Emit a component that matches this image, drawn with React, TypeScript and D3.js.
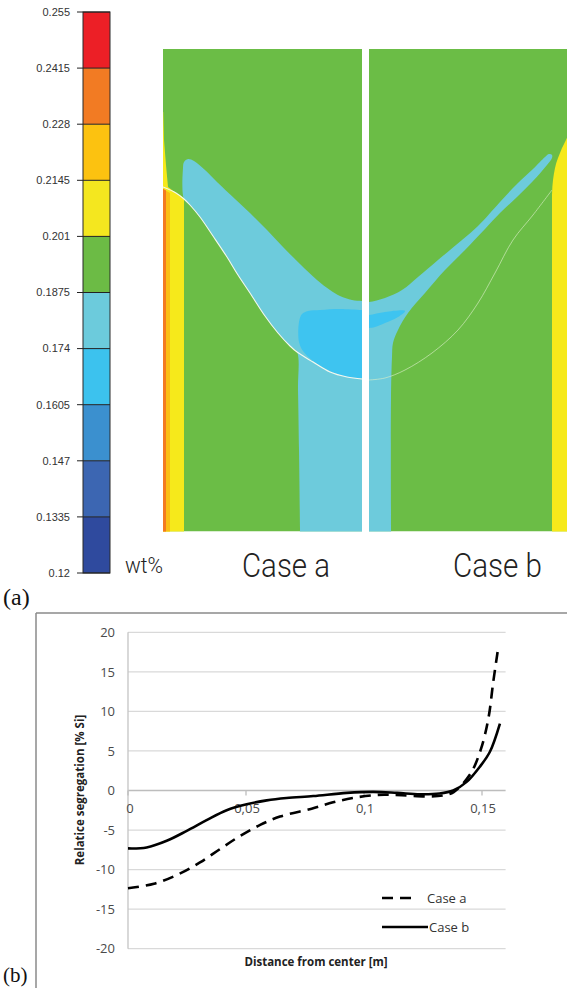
import React from 'react';
import * as d3 from 'd3';

const W = 567;
const H = 988;

// ---- (a) colour bar, Si content in wt%
const LEVELS = [0.255, 0.2415, 0.228, 0.2145, 0.201, 0.1875, 0.174, 0.1605, 0.147, 0.1335, 0.12];
const LEVEL_LABELS = ['0.255', '0.2415', '0.228', '0.2145', '0.201', '0.1875', '0.174', '0.1605', '0.147', '0.1335', '0.12'];
const LEVEL_COLORS = ['#ec1f26', '#f27b23', '#fcc210', '#f4e71f', '#6cbb45', '#6ccbdc', '#3cc2ee', '#3b90cf', '#3c66b2', '#2f4a9e'];

// ---- (a) contour outlines, [radius from axis (mm), depth from top (mm)]
const INGOT_R = 160;
const INGOT_Z = 386;

const caseAWallYellow: [number, number][] = [
  [159, 50.4], [158.4, 72.8], [156.8, 92.8], [155.2, 110.4], [148.8, 115.2], [142.4, 119.2],
  [142.4, 395], [166, 395], [166, 50.4],
];
const caseAWallGold: [number, number][] = [[166, 112], [159, 112], [153.6, 115.2], [153.6, 395], [166, 395]];
const caseAWallOrange: [number, number][] = [[166, 112], [159, 112], [156.8, 113.2], [156.8, 395], [166, 395]];

const caseABand: [number, number][] = [
  [143.2, 95.2], [142.4, 90.4], [139.2, 88], [134.4, 89.6], [125.6, 96.8], [116, 106.4], [101.6, 120],
  [89.6, 131.2], [76, 144.8], [63.2, 158.4], [49.6, 172], [36, 184.8], [25.6, 192.8], [17.6, 197.6],
  [8, 200.8], [0, 201.6], [-6, 202], [-6, 395], [49.4, 395], [49.6, 384], [50.4, 320.8], [51.2, 272.8],
  [52, 242.4], [57.6, 237.6], [67.2, 227.2], [77.6, 213.6], [89.6, 195.2], [99.2, 180.8], [108, 166.4],
  [119.2, 149.6], [129.6, 134.4], [137.6, 124.8], [142.4, 120],
];
const caseACore: [number, number][] = [
  [50.4, 218.4], [48, 212], [43.2, 209.6], [33.6, 208.8], [17.6, 208], [0, 208.8], [-6, 209],
  [-6, 263], [0, 263.2], [12, 262.4], [25.6, 257.6], [39.2, 249.6], [47.2, 241.6], [50.4, 234.4],
];
const caseALiquidus: [number, number][] = [
  [159.2, 110.4], [148.8, 115.2], [142.4, 120], [137.6, 124.8], [129.6, 134.4], [119.2, 149.6],
  [108, 166.4], [99.2, 180.8], [89.6, 195.2], [77.6, 213.6], [67.2, 227.2], [57.6, 237.6], [52, 242.4],
  [39.2, 250.4], [25.6, 258.4], [12, 262.4], [0, 264],
];

const caseBWallYellow: [number, number][] = [
  [159, 69.6], [156.8, 74.4], [154.4, 79.2], [152.8, 83.2], [151.2, 87.2], [149.8, 91.2],
  [148.8, 95.2], [147.9, 100], [147.2, 104.8], [146.7, 110], [146.4, 116.8],
  [146.4, 395], [166, 395], [166, 60],
];
const caseBBand: [number, number][] = [
  [0, 202.4], [12.8, 199.2], [26.4, 192.8], [39.2, 182.4], [55.2, 168.8], [74.4, 152.8], [87.2, 141.6],
  [104.8, 122.4], [118.4, 108], [131.2, 96], [140.8, 86.4], [144, 84], [146.4, 84.8], [146.4, 87.2],
  [142.4, 92.8], [131.2, 105.6], [118.4, 118.4], [104.8, 131.2], [92.8, 144], [76.8, 160.8],
  [60.8, 176.8], [44.8, 195.2], [31.2, 211.2], [23.2, 224.8], [19.2, 235.2], [18.4, 246.4],
  [17.6, 280.8], [17.6, 384], [17.6, 395], [-6, 395], [-6, 202.4],
];
const caseBCore: [number, number][] = [
  [0, 212.8], [12.8, 210.4], [28.8, 209.6], [23.2, 214.4], [12.8, 219.2], [4.8, 222.4], [0, 223.2],
  [-6, 223], [-6, 213],
];
const caseBLiquidus: [number, number][] = [
  [146.4, 112.8], [131.2, 132.8], [115.2, 152.8], [100.8, 179.2], [87.2, 203.2], [71.2, 224.8],
  [50.4, 243.2], [28.8, 256.8], [12.8, 263.2], [0, 264.8],
];

// ---- (b) relative segregation along the radius
const distA = [0, 0.011, 0.0213, 0.0305, 0.039, 0.0475, 0.056, 0.0644, 0.0778, 0.0869, 0.0952, 0.106, 0.116, 0.128, 0.134, 0.138, 0.145, 0.1494, 0.1527, 0.1548, 0.157];
const segA = [-12.35, -11.8, -10.6, -9.1, -7.4, -5.75, -4.35, -3.3, -2.3, -1.5, -0.95, -0.55, -0.6, -0.75, -0.6, -0.2, 2.06, 5.1, 9.1, 13.8, 18.3];
const distB = [0, 0.0079, 0.0164, 0.0249, 0.0333, 0.0418, 0.0503, 0.0588, 0.0672, 0.0785, 0.0927, 0.104, 0.114, 0.1237, 0.132, 0.1378, 0.1435, 0.149, 0.1533, 0.1576];
const segB = [-7.32, -7.2, -6.36, -5.1, -3.75, -2.5, -1.75, -1.25, -0.95, -0.7, -0.3, -0.17, -0.3, -0.47, -0.38, 0, 1.09, 2.98, 4.87, 8.46];
const xTicks = [0, 0.05, 0.1, 0.15];
const xTickLabels = ['0', '0,05', '0,1', '0,15'];
const yTicks = [-20, -15, -10, -5, 0, 5, 10, 15, 20];

const C = {
  green: '#6bbd46',
  cyan: '#6dcbdc',
  sky: '#3ec4f0',
  yellow: '#f6e91b',
  gold: '#fbbf14',
  orange: '#f37a21',
};

function Panel({ id, x0, x1, zScale, children }) {
  return (
    <g>
      <clipPath id={id}>
        <rect x={x0} y={zScale(0)} width={x1 - x0} height={zScale(INGOT_Z) - zScale(0)} />
      </clipPath>
      <g clipPath={`url(#${id})`}>
        <rect x={x0} y={zScale(0)} width={x1 - x0} height={zScale(INGOT_Z) - zScale(0)} fill={C.green} />
        {children}
      </g>
    </g>
  );
}

export default function App() {
  // colour bar
  const cb = d3.scaleLinear().domain([0.12, 0.255]).range([573, 12]);
  const cbX = 83;
  const cbW = 27;

  // contour panels
  const zScale = d3.scaleLinear().domain([0, INGOT_Z]).range([49, 531.5]);
  const rLeft = d3.scaleLinear().domain([0, INGOT_R]).range([362, 162]);
  const rRight = d3.scaleLinear().domain([0, INGOT_R]).range([369, 569]);
  const shape = (r, closed = true, smooth = true) =>
    d3.line<[number, number]>()
      .x(p => r(p[0]))
      .y(p => zScale(p[1]))
      .curve(closed ? (smooth ? d3.curveCatmullRomClosed.alpha(0.5) : d3.curveLinearClosed) : d3.curveCatmullRom.alpha(0.5));

  const L = shape(rLeft);
  const Llin = shape(rLeft, true, false);
  const Lopen = shape(rLeft, false);
  const R = shape(rRight);
  const Rlin = shape(rRight, true, false);
  const Ropen = shape(rRight, false);

  // segregation chart
  const x = d3.scaleLinear().domain([0, 0.16]).range([128, 505.6]);
  const y = d3.scaleLinear().domain([-20, 20]).range([948.7, 632.3]);
  const line = d3.line<[number, number]>().x(d => x(d[0])).y(d => y(d[1])).curve(d3.curveCatmullRom.alpha(0.5));
  const ptsA = distA.map((d, i) => [d, segA[i]] as [number, number]);
  const ptsB = distB.map((d, i) => [d, segB[i]] as [number, number]);

  const font = "'Open Sans', 'Noto Sans', sans-serif";
  const thin = "Roboto, 'Noto Sans', sans-serif";
  const serif = "'Liberation Serif', 'Times New Roman', serif";

  return (
    <svg width={W} height={H} style={{ position: 'absolute', left: 0, top: 0, background: '#fff' }}>
      {/* ---------- (a) colour bar ---------- */}
      {LEVEL_COLORS.map((c, i) => (
        <rect key={c} x={cbX} y={cb(LEVELS[i])} width={cbW} height={cb(LEVELS[i + 1]) - cb(LEVELS[i])} fill={c} />
      ))}
      <rect x={cbX} y={cb(0.255)} width={cbW} height={cb(0.12) - cb(0.255)} fill="none" stroke="#2a2a2a" strokeWidth={1} />
      {LEVELS.map((v, i) => (
        <g key={v}>
          <line x1={77} x2={cbX + cbW} y1={cb(v)} y2={cb(v)} stroke="#222" strokeWidth={1} />
          <text x={70} y={cb(v)} dy="0.35em" textAnchor="end" fontFamily="'Liberation Sans', Arial, sans-serif" fontSize={11} fill="#333">
            {LEVEL_LABELS[i]}
          </text>
        </g>
      ))}
      <text x={125} y={573} fontFamily={thin} fontWeight={300} fontSize={22} fill="#222" textLength={38} lengthAdjust="spacingAndGlyphs">wt%</text>

      {/* ---------- (a) Case a ---------- */}
      <Panel id="clipA" x0={163} x1={362} zScale={zScale}>
        <path d={Llin(caseAWallYellow)} fill={C.yellow} />
        <path d={Llin(caseAWallGold)} fill={C.gold} />
        <path d={Llin(caseAWallOrange)} fill={C.orange} />
        <path d={L(caseABand)} fill={C.cyan} />
        <path d={L(caseACore)} fill={C.sky} />
        <path d={Lopen(caseALiquidus)} fill="none" stroke="#f4f8ef" strokeWidth={1.1} />
      </Panel>

      {/* ---------- (a) Case b ---------- */}
      <Panel id="clipB" x0={369} x1={567} zScale={zScale}>
        <path d={Rlin(caseBWallYellow)} fill={C.yellow} />
        <path d={R(caseBBand)} fill={C.cyan} />
        <path d={R(caseBCore)} fill={C.sky} />
        <path d={Ropen(caseBLiquidus)} fill="none" stroke="#d9eec6" strokeWidth={0.8} opacity={0.8} />
      </Panel>

      <text x={242} y={577} fontFamily={thin} fontWeight={300} fontSize={33} fill="#222" textLength={88} lengthAdjust="spacingAndGlyphs">Case a</text>
      <text x={453} y={577} fontFamily={thin} fontWeight={300} fontSize={33} fill="#222" textLength={89} lengthAdjust="spacingAndGlyphs">Case b</text>

      <text x={3} y={605} fontFamily={serif} fontSize={24} fill="#111">(a)</text>
      <text x={3} y={982} fontFamily={serif} fontSize={21} fill="#111">(b)</text>

      {/* ---------- (b) chart frame ---------- */}
      <line x1={36} x2={W} y1={613} y2={613} stroke="#8a8a8a" strokeWidth={1.5} />
      <line x1={36} x2={36} y1={613} y2={H} stroke="#8a8a8a" strokeWidth={1.5} />

      {/* grid */}
      {yTicks.map(t => (
        <g key={t}>
          <line x1={x(0)} x2={x(0.16)} y1={y(t)} y2={y(t)} stroke={t === 0 ? '#bdbdbd' : '#d9d9d9'} strokeWidth={1.3} />
          <text x={115} y={y(t)} dy="0.36em" textAnchor="end" fontFamily={font} fontSize={13} fill="#4a4a4a">{t}</text>
        </g>
      ))}
      <line x1={x(0)} x2={x(0)} y1={y(20)} y2={y(-20)} stroke="#c4c4c4" strokeWidth={1.3} />
      {xTicks.map((t, i) => (
        <g key={t}>
          <line x1={x(t)} x2={x(t)} y1={y(0)} y2={y(0) + 5} stroke="#bdbdbd" strokeWidth={1.3} />
          <text x={x(t) + (i === 0 ? 2 : 1)} y={y(0) + 22} textAnchor="middle" fontFamily={font} fontSize={13} fill="#4a4a4a">{xTickLabels[i]}</text>
        </g>
      ))}

      {/* curves */}
      <path d={line(ptsA)} fill="none" stroke="#000" strokeWidth={2.6} strokeDasharray="11,7" />
      <path d={line(ptsB)} fill="none" stroke="#000" strokeWidth={2.6} />

      {/* legend */}
      <line x1={382} x2={416} y1={898} y2={898} stroke="#000" strokeWidth={2.6} strokeDasharray="11,7" />
      <text x={427} y={898} dy="0.35em" fontFamily={font} fontSize={13} fill="#333">Case a</text>
      <line x1={382} x2={428} y1={927} y2={927} stroke="#000" strokeWidth={2.6} />
      <text x={429} y={927} dy="0.35em" fontFamily={font} fontSize={13} fill="#333">Case b</text>

      {/* axis titles */}
      <text x={316} y={966} textAnchor="middle" fontFamily={font} fontWeight={700} fontSize={11.5} fill="#222">Distance from center [m]</text>
      <text transform={`translate(84,790) rotate(-90)`} textAnchor="middle" fontFamily={font} fontWeight={700} fontSize={11.5} fill="#222">Relatice segregation [% Si]</text>
    </svg>
  );
}
